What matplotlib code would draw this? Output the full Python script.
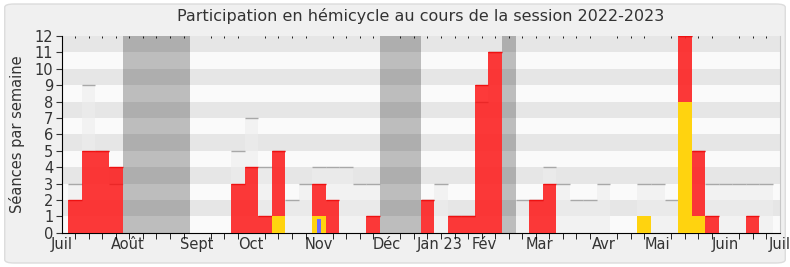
import numpy as np
import matplotlib
matplotlib.use("Agg")
import matplotlib.pyplot as plt
from matplotlib.patches import FancyBboxPatch

# weekly data, session 2022-2023 (53 weeks)
weeks = np.arange(53)
seances = [0, 3, 9, 5, 3, 0, 0, 0, 0, 0, 0, 0, 0, 5, 7, 4, 5, 2, 3, 4,
           4, 4, 3, 3, 0, 0, 0, 2, 3, 1, 1, 8, 11, 0, 2, 2, 4, 3, 2, 2,
           3, 0, 0, 3, 3, 2, 12, 5, 3, 3, 3, 3, 3]
presences = [0, 2, 5, 5, 4, 0, 0, 0, 0, 0, 0, 0, 0, 3, 4, 1, 5, 0, 0, 3,
             2, 0, 0, 1, 0, 0, 0, 2, 0, 1, 1, 9, 11, 0, 0, 2, 3, 0, 0, 0,
             0, 0, 0, 0, 0, 0, 12, 5, 1, 0, 0, 1, 0]
interventions = [0, 0, 0, 0, 0, 0, 0, 0, 0, 0, 0, 0, 0, 0, 0, 0, 1, 0, 0, 1,
                 0, 0, 0, 0, 0, 0, 0, 0, 0, 0, 0, 0, 0, 0, 0, 0, 0, 0, 0, 0,
                 0, 0, 0, 1, 0, 0, 8, 1, 0, 0, 0, 0, 0]
questions = [0] * 19 + [0.85] + [0] * 33
vacances = [5, 6, 7, 8, 9, 24, 25, 26, 33]

month_pos = [0, 4.9, 10, 14, 19, 24, 27.9, 31.2, 35.3, 40, 44, 49, 53]
month_labels = ["Juil", "Août", "Sept", "Oct", "Nov", "Déc", "Jan 23",
                "Fév", "Mar", "Avr", "Mai", "Juin", "Juil"]
ymax = 12

fig = plt.figure(figsize=(7.9, 2.67), dpi=100, facecolor="white")
fig.patches.append(FancyBboxPatch((0.006, 0.015), 0.988, 0.97,
                                  boxstyle="round,pad=0,rounding_size=0.012",
                                  transform=fig.transFigure, facecolor="#f0f0f0",
                                  edgecolor="#dcdcdc", linewidth=1, zorder=-10))
ax = fig.add_axes([0.078, 0.1285, 0.909, 0.7365])
ax.set_facecolor("#fafafa")

# horizontal stripes
for k in range(1, ymax, 2):
    ax.axhspan(k, k + 1, color="#e6e6e6", lw=0, zorder=0)

# holidays
ax.bar(vacances, ymax, width=1, color="black", alpha=0.245, lw=0, zorder=1)

# total sessions
ax.bar(weeks, seances, width=1, color="#eeeeee", alpha=0.6, lw=0, zorder=2)
s = np.array(seances)
m = s > 0
ax.hlines(s[m], weeks[m] - 0.5, weeks[m] + 0.5, color="#a8a8a8", lw=1, zorder=2.5)

# presences
ax.bar(weeks, presences, width=1, color="#ff0000", alpha=0.77, lw=0, zorder=3)
p = np.array(presences)
mp = p > 0
ax.hlines(p[mp], weeks[mp] - 0.5, weeks[mp] + 0.5, color="#ee1111", lw=1, zorder=3.5)

# interventions and questions
ax.bar(weeks, interventions, width=1, color="#ffd30f", lw=0, zorder=4)
ax.bar(weeks, questions, width=0.25, color="#6b6bff", lw=0, zorder=5)

ax.set_xlim(0, 53)
ax.set_ylim(0, ymax)
ax.set_yticks(range(0, ymax + 1))
ax.tick_params(axis="y", labelsize=10.5, length=4, pad=2, colors="#333333")
ax.set_xticks(month_pos)
ax.set_xticklabels(month_labels)
ax.tick_params(axis="x", which="major", length=0, labelsize=10.5, pad=3, colors="#333333")
ax.set_xticks(weeks[1:].tolist() + [53], minor=True)
ax.tick_params(axis="x", which="minor", length=4, bottom=True, top=True,
               direction="out", color="black")
for t in ax.xaxis.get_minor_ticks():
    t.tick2line.set_markersize(1.5)
    t.tick2line.set_marker(matplotlib.lines.TICKDOWN)

ax.spines["top"].set_visible(False)
ax.spines["right"].set_color("#c8c8c8")
ax.spines["left"].set_color("black")
ax.spines["bottom"].set_color("black")

ax.set_ylabel("Séances par semaine", fontsize=10.5, color="#333333", labelpad=7)
ax.set_title("Participation en hémicycle au cours de la session 2022-2023",
             fontsize=11.5, color="#333333", pad=11)

fig.savefig("out.png", dpi=100, facecolor=fig.get_facecolor())
